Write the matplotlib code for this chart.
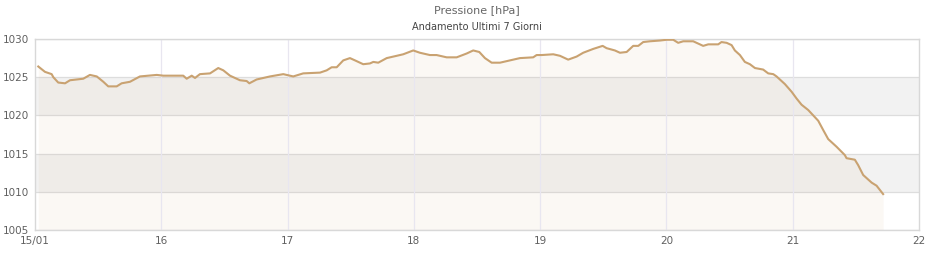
import numpy as np
import matplotlib.pyplot as plt

# Pressure readings: time in days since 15/01 00:00, pressure in hPa
days = [0.026, 0.079, 0.132, 0.145, 0.184, 0.238, 0.277, 0.382, 0.435, 0.489,
        0.541, 0.580, 0.647, 0.686, 0.752, 0.831, 0.964, 1.016, 1.174, 1.201,
        1.241, 1.267, 1.306, 1.386, 1.451, 1.491, 1.544, 1.623, 1.676, 1.697,
        1.755, 1.861, 1.966, 2.045, 2.124, 2.257, 2.310, 2.349, 2.389, 2.441,
        2.494, 2.534, 2.599, 2.652, 2.679, 2.718, 2.785, 2.864, 2.916, 2.995,
        3.048, 3.127, 3.180, 3.260, 3.339, 3.418, 3.470, 3.518, 3.563, 3.616,
        3.682, 3.761, 3.840, 3.945, 3.972, 4.012, 4.104, 4.157, 4.222, 4.289,
        4.341, 4.420, 4.495, 4.526, 4.592, 4.632, 4.685, 4.737, 4.777, 4.816,
        4.869, 4.949, 5.002, 5.054, 5.093, 5.133, 5.212, 5.265, 5.291, 5.331,
        5.410, 5.436, 5.477, 5.516, 5.542, 5.582, 5.621, 5.661, 5.701, 5.766,
        5.806, 5.846, 5.872, 5.938, 5.991, 6.031, 6.070, 6.123, 6.202, 6.241,
        6.281, 6.347, 6.413, 6.426, 6.492, 6.518, 6.558, 6.625, 6.664, 6.716]
pressure = [1026.4, 1025.7, 1025.4, 1025.0, 1024.3, 1024.2, 1024.6, 1024.8, 1025.3, 1025.1,
            1024.4, 1023.8, 1023.8, 1024.2, 1024.4, 1025.1, 1025.3, 1025.2, 1025.2, 1024.8,
            1025.2, 1024.9, 1025.4, 1025.5, 1026.2, 1025.9, 1025.2, 1024.6, 1024.5, 1024.2,
            1024.7, 1025.1, 1025.4, 1025.1, 1025.5, 1025.6, 1025.9, 1026.3, 1026.3, 1027.2,
            1027.5, 1027.2, 1026.7, 1026.8, 1027.0, 1026.9, 1027.5, 1027.8, 1028.0, 1028.5,
            1028.2, 1027.9, 1027.9, 1027.6, 1027.6, 1028.1, 1028.5, 1028.3, 1027.5, 1026.9,
            1026.9, 1027.2, 1027.5, 1027.6, 1027.9, 1027.9, 1028.0, 1027.8, 1027.3, 1027.7,
            1028.2, 1028.7, 1029.1, 1028.8, 1028.5, 1028.2, 1028.3, 1029.1, 1029.1, 1029.6,
            1029.7, 1029.8, 1029.9, 1029.9, 1029.5, 1029.7, 1029.7, 1029.3, 1029.1, 1029.3,
            1029.3, 1029.6, 1029.5, 1029.2, 1028.5, 1027.9, 1027.0, 1026.7, 1026.2, 1026.0,
            1025.5, 1025.4, 1025.1, 1024.1, 1023.1, 1022.2, 1021.4, 1020.7, 1019.3, 1018.1,
            1016.9, 1015.9, 1014.8, 1014.4, 1014.2, 1013.5, 1012.2, 1011.2, 1010.8, 1009.7]

day_ticks = [0, 1, 2, 3, 4, 5, 6, 7]
day_labels = ["15/01", "16", "17", "18", "19", "20", "21", "22"]
p_ticks = [1005, 1010, 1015, 1020, 1025, 1030]
bands = [(1010, 1015), (1020, 1025)]

line_color = "#c9a271"

fig = plt.figure(figsize=(9.4, 2.6), dpi=100)
ax = fig.add_axes([35 / 940, 30 / 260, 884 / 940, 191 / 260])

# alternating grey bands behind everything
for lo, hi in bands:
    ax.axhspan(lo, hi, color="#f2f2f2", zorder=0, lw=0)

ax.fill_between(days, pressure, 1005, color=line_color, alpha=0.07, lw=0, zorder=1)
ax.plot(days, pressure, color=line_color, lw=1.5, zorder=3)

ax.set_xlim(0, 7)
ax.set_ylim(1005, 1030)
ax.set_xticks(day_ticks)
ax.set_xticklabels(day_labels)
ax.set_yticks(p_ticks)

ax.grid(axis="y", color="#dddddd", lw=0.9, zorder=2)
for d in day_ticks[1:-1]:
    ax.axvline(d, color="#e8e6f0", lw=0.9, zorder=2)
ax.set_axisbelow(True)

for s in ax.spines.values():
    s.set_color("#d8d8d8")
    s.set_linewidth(1.0)
ax.tick_params(length=0, labelsize=7.5, labelcolor="#606060", pad=4)

fig.text(0.5075, 0.962, "Pressione [hPa]", ha="center", va="center", fontsize=8, color="#666666")
fig.text(0.5075, 0.895, "Andamento Ultimi 7 Giorni", ha="center", va="center", fontsize=7, color="#444444")

fig.savefig("out.png", dpi=100)
